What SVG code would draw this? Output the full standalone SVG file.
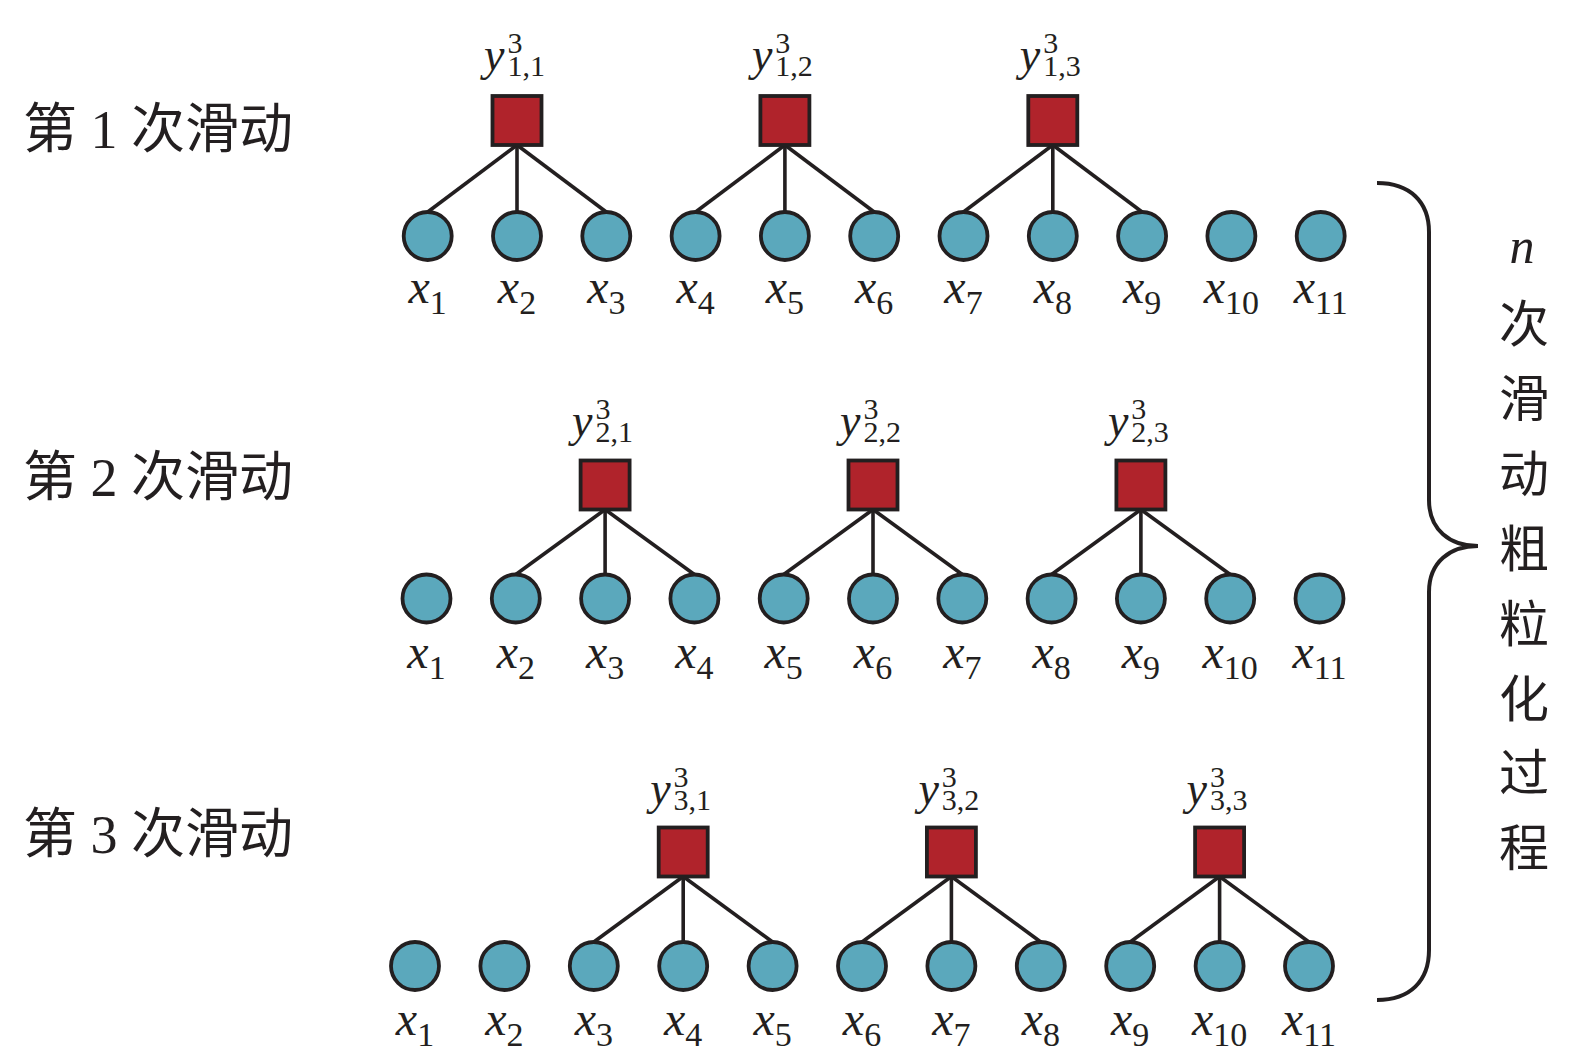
<svg xmlns="http://www.w3.org/2000/svg" width="1575" height="1062" viewBox="0 0 1575 1062">
<style>
.c{fill:#5BA8BC;stroke:#231F20;stroke-width:3.8}
.s{fill:#B0232B;stroke:#231F20;stroke-width:3.8}
.e{stroke:#231F20;stroke-width:3.6;fill:none}
.xl{font-family:"Liberation Serif","Times New Roman",serif;font-size:48px;fill:#231F20;text-anchor:middle}
.xl .v{font-style:italic}
.xl .b{font-size:34px}
.yl{font-family:"Liberation Serif","Times New Roman",serif;font-size:46px;fill:#231F20}
.yl .v{font-style:italic}
.yl .b{font-size:30px}
.cn{font-family:"Liberation Serif","Noto Sans CJK SC",sans-serif;font-size:54px;fill:#231F20}
.vt{font-family:"Liberation Serif","Noto Sans CJK SC",sans-serif;font-size:50px;fill:#231F20;text-anchor:middle}
</style>
<rect width="1575" height="1062" fill="#fff"/>

<g id="connectors">
<!-- row 1 -->
<line class="e" x1="517" y1="145" x2="427.7" y2="212"/>
<line class="e" x1="517" y1="145" x2="517" y2="212"/>
<line class="e" x1="517" y1="145" x2="606.3" y2="212"/>
<line class="e" x1="784.9" y1="145" x2="695.6" y2="212"/>
<line class="e" x1="784.9" y1="145" x2="784.9" y2="212"/>
<line class="e" x1="784.9" y1="145" x2="874.2" y2="212"/>
<line class="e" x1="1052.8" y1="145" x2="963.5" y2="212"/>
<line class="e" x1="1052.8" y1="145" x2="1052.8" y2="212"/>
<line class="e" x1="1052.8" y1="145" x2="1142.1" y2="212"/>
<!-- row 2 -->
<line class="e" x1="605.1" y1="509.5" x2="515.8" y2="574.5"/>
<line class="e" x1="605.1" y1="509.5" x2="605.1" y2="574.5"/>
<line class="e" x1="605.1" y1="509.5" x2="694.4" y2="574.5"/>
<line class="e" x1="873" y1="509.5" x2="783.7" y2="574.5"/>
<line class="e" x1="873" y1="509.5" x2="873" y2="574.5"/>
<line class="e" x1="873" y1="509.5" x2="962.3" y2="574.5"/>
<line class="e" x1="1140.9" y1="509.5" x2="1051.6" y2="574.5"/>
<line class="e" x1="1140.9" y1="509.5" x2="1140.9" y2="574.5"/>
<line class="e" x1="1140.9" y1="509.5" x2="1230.2" y2="574.5"/>
<!-- row 3 -->
<line class="e" x1="683.2" y1="876.5" x2="593.8" y2="942"/>
<line class="e" x1="683.2" y1="876.5" x2="683.2" y2="942"/>
<line class="e" x1="683.2" y1="876.5" x2="772.6" y2="942"/>
<line class="e" x1="951.4" y1="876.5" x2="862" y2="942"/>
<line class="e" x1="951.4" y1="876.5" x2="951.4" y2="942"/>
<line class="e" x1="951.4" y1="876.5" x2="1040.8" y2="942"/>
<line class="e" x1="1219.6" y1="876.5" x2="1130.2" y2="942"/>
<line class="e" x1="1219.6" y1="876.5" x2="1219.6" y2="942"/>
<line class="e" x1="1219.6" y1="876.5" x2="1309" y2="942"/>
</g>

<!-- Row labels -->
<g id="row-labels">
<text class="cn" x="23" y="147.5">第 1 次滑动</text>
<text class="cn" x="23" y="495.5">第 2 次滑动</text>
<text class="cn" x="23" y="852.5">第 3 次滑动</text>
</g>

<!-- Row 1 -->
<g id="row1">
<g id="y11"><rect class="s" x="492.5" y="96" width="49" height="49"/><text class="yl" x="484" y="70"><tspan class="v">y</tspan><tspan class="b" dx="3" dy="-17">3</tspan><tspan class="b" dx="-15" dy="23">1,1</tspan></text></g>
<g id="y12"><rect class="s" x="760.4" y="96" width="49" height="49"/><text class="yl" x="751.9" y="70"><tspan class="v">y</tspan><tspan class="b" dx="3" dy="-17">3</tspan><tspan class="b" dx="-15" dy="23">1,2</tspan></text></g>
<g id="y13"><rect class="s" x="1028.3" y="96" width="49" height="49"/><text class="yl" x="1019.8" y="70"><tspan class="v">y</tspan><tspan class="b" dx="3" dy="-17">3</tspan><tspan class="b" dx="-15" dy="23">1,3</tspan></text></g>
<g id="r1x1"><circle class="c" cx="427.7" cy="236" r="24"/><text class="xl" x="427.7" y="303"><tspan class="v">x</tspan><tspan class="b" dy="11">1</tspan></text></g>
<g id="r1x2"><circle class="c" cx="517" cy="236" r="24"/><text class="xl" x="517" y="303"><tspan class="v">x</tspan><tspan class="b" dy="11">2</tspan></text></g>
<g id="r1x3"><circle class="c" cx="606.3" cy="236" r="24"/><text class="xl" x="606.3" y="303"><tspan class="v">x</tspan><tspan class="b" dy="11">3</tspan></text></g>
<g id="r1x4"><circle class="c" cx="695.6" cy="236" r="24"/><text class="xl" x="695.6" y="303"><tspan class="v">x</tspan><tspan class="b" dy="11">4</tspan></text></g>
<g id="r1x5"><circle class="c" cx="784.9" cy="236" r="24"/><text class="xl" x="784.9" y="303"><tspan class="v">x</tspan><tspan class="b" dy="11">5</tspan></text></g>
<g id="r1x6"><circle class="c" cx="874.2" cy="236" r="24"/><text class="xl" x="874.2" y="303"><tspan class="v">x</tspan><tspan class="b" dy="11">6</tspan></text></g>
<g id="r1x7"><circle class="c" cx="963.5" cy="236" r="24"/><text class="xl" x="963.5" y="303"><tspan class="v">x</tspan><tspan class="b" dy="11">7</tspan></text></g>
<g id="r1x8"><circle class="c" cx="1052.8" cy="236" r="24"/><text class="xl" x="1052.8" y="303"><tspan class="v">x</tspan><tspan class="b" dy="11">8</tspan></text></g>
<g id="r1x9"><circle class="c" cx="1142.1" cy="236" r="24"/><text class="xl" x="1142.1" y="303"><tspan class="v">x</tspan><tspan class="b" dy="11">9</tspan></text></g>
<g id="r1x10"><circle class="c" cx="1231.4" cy="236" r="24"/><text class="xl" x="1231.4" y="303"><tspan class="v">x</tspan><tspan class="b" dy="11">10</tspan></text></g>
<g id="r1x11"><circle class="c" cx="1320.7" cy="236" r="24"/><text class="xl" x="1320.7" y="303"><tspan class="v">x</tspan><tspan class="b" dy="11">11</tspan></text></g>
</g>

<!-- Row 2 -->
<g id="row2">
<g id="y21"><rect class="s" x="580.6" y="460.5" width="49" height="49"/><text class="yl" x="572.1" y="436"><tspan class="v">y</tspan><tspan class="b" dx="3" dy="-17">3</tspan><tspan class="b" dx="-15" dy="23">2,1</tspan></text></g>
<g id="y22"><rect class="s" x="848.5" y="460.5" width="49" height="49"/><text class="yl" x="840" y="436"><tspan class="v">y</tspan><tspan class="b" dx="3" dy="-17">3</tspan><tspan class="b" dx="-15" dy="23">2,2</tspan></text></g>
<g id="y23"><rect class="s" x="1116.4" y="460.5" width="49" height="49"/><text class="yl" x="1107.9" y="436"><tspan class="v">y</tspan><tspan class="b" dx="3" dy="-17">3</tspan><tspan class="b" dx="-15" dy="23">2,3</tspan></text></g>
<g id="r2x1"><circle class="c" cx="426.5" cy="598.5" r="24"/><text class="xl" x="426.5" y="667.5"><tspan class="v">x</tspan><tspan class="b" dy="11">1</tspan></text></g>
<g id="r2x2"><circle class="c" cx="515.8" cy="598.5" r="24"/><text class="xl" x="515.8" y="667.5"><tspan class="v">x</tspan><tspan class="b" dy="11">2</tspan></text></g>
<g id="r2x3"><circle class="c" cx="605.1" cy="598.5" r="24"/><text class="xl" x="605.1" y="667.5"><tspan class="v">x</tspan><tspan class="b" dy="11">3</tspan></text></g>
<g id="r2x4"><circle class="c" cx="694.4" cy="598.5" r="24"/><text class="xl" x="694.4" y="667.5"><tspan class="v">x</tspan><tspan class="b" dy="11">4</tspan></text></g>
<g id="r2x5"><circle class="c" cx="783.7" cy="598.5" r="24"/><text class="xl" x="783.7" y="667.5"><tspan class="v">x</tspan><tspan class="b" dy="11">5</tspan></text></g>
<g id="r2x6"><circle class="c" cx="873" cy="598.5" r="24"/><text class="xl" x="873" y="667.5"><tspan class="v">x</tspan><tspan class="b" dy="11">6</tspan></text></g>
<g id="r2x7"><circle class="c" cx="962.3" cy="598.5" r="24"/><text class="xl" x="962.3" y="667.5"><tspan class="v">x</tspan><tspan class="b" dy="11">7</tspan></text></g>
<g id="r2x8"><circle class="c" cx="1051.6" cy="598.5" r="24"/><text class="xl" x="1051.6" y="667.5"><tspan class="v">x</tspan><tspan class="b" dy="11">8</tspan></text></g>
<g id="r2x9"><circle class="c" cx="1140.9" cy="598.5" r="24"/><text class="xl" x="1140.9" y="667.5"><tspan class="v">x</tspan><tspan class="b" dy="11">9</tspan></text></g>
<g id="r2x10"><circle class="c" cx="1230.2" cy="598.5" r="24"/><text class="xl" x="1230.2" y="667.5"><tspan class="v">x</tspan><tspan class="b" dy="11">10</tspan></text></g>
<g id="r2x11"><circle class="c" cx="1319.5" cy="598.5" r="24"/><text class="xl" x="1319.5" y="667.5"><tspan class="v">x</tspan><tspan class="b" dy="11">11</tspan></text></g>
</g>

<!-- Row 3 -->
<g id="row3">
<g id="y31"><rect class="s" x="658.7" y="827.5" width="49" height="49"/><text class="yl" x="650.2" y="804"><tspan class="v">y</tspan><tspan class="b" dx="3" dy="-17">3</tspan><tspan class="b" dx="-15" dy="23">3,1</tspan></text></g>
<g id="y32"><rect class="s" x="926.9" y="827.5" width="49" height="49"/><text class="yl" x="918.4" y="804"><tspan class="v">y</tspan><tspan class="b" dx="3" dy="-17">3</tspan><tspan class="b" dx="-15" dy="23">3,2</tspan></text></g>
<g id="y33"><rect class="s" x="1195.1" y="827.5" width="49" height="49"/><text class="yl" x="1186.6" y="804"><tspan class="v">y</tspan><tspan class="b" dx="3" dy="-17">3</tspan><tspan class="b" dx="-15" dy="23">3,3</tspan></text></g>
<g id="r3x1"><circle class="c" cx="415" cy="966" r="24"/><text class="xl" x="415" y="1035"><tspan class="v">x</tspan><tspan class="b" dy="11">1</tspan></text></g>
<g id="r3x2"><circle class="c" cx="504.4" cy="966" r="24"/><text class="xl" x="504.4" y="1035"><tspan class="v">x</tspan><tspan class="b" dy="11">2</tspan></text></g>
<g id="r3x3"><circle class="c" cx="593.8" cy="966" r="24"/><text class="xl" x="593.8" y="1035"><tspan class="v">x</tspan><tspan class="b" dy="11">3</tspan></text></g>
<g id="r3x4"><circle class="c" cx="683.2" cy="966" r="24"/><text class="xl" x="683.2" y="1035"><tspan class="v">x</tspan><tspan class="b" dy="11">4</tspan></text></g>
<g id="r3x5"><circle class="c" cx="772.6" cy="966" r="24"/><text class="xl" x="772.6" y="1035"><tspan class="v">x</tspan><tspan class="b" dy="11">5</tspan></text></g>
<g id="r3x6"><circle class="c" cx="862" cy="966" r="24"/><text class="xl" x="862" y="1035"><tspan class="v">x</tspan><tspan class="b" dy="11">6</tspan></text></g>
<g id="r3x7"><circle class="c" cx="951.4" cy="966" r="24"/><text class="xl" x="951.4" y="1035"><tspan class="v">x</tspan><tspan class="b" dy="11">7</tspan></text></g>
<g id="r3x8"><circle class="c" cx="1040.8" cy="966" r="24"/><text class="xl" x="1040.8" y="1035"><tspan class="v">x</tspan><tspan class="b" dy="11">8</tspan></text></g>
<g id="r3x9"><circle class="c" cx="1130.2" cy="966" r="24"/><text class="xl" x="1130.2" y="1035"><tspan class="v">x</tspan><tspan class="b" dy="11">9</tspan></text></g>
<g id="r3x10"><circle class="c" cx="1219.6" cy="966" r="24"/><text class="xl" x="1219.6" y="1035"><tspan class="v">x</tspan><tspan class="b" dy="11">10</tspan></text></g>
<g id="r3x11"><circle class="c" cx="1309" cy="966" r="24"/><text class="xl" x="1309" y="1035"><tspan class="v">x</tspan><tspan class="b" dy="11">11</tspan></text></g>
</g>

<!-- Brace and caption -->
<g id="brace">
<path d="M1377,183 C1410,183 1429,202 1429,232 L1429,500 C1429,530 1450,546 1478,546 C1450,546 1429,562 1429,592 L1429,950 C1429,981 1410,1000 1377,1000" fill="none" stroke="#231F20" stroke-width="4"/>
</g>
<g id="caption">
<text class="vt" x="1522" y="263" font-style="italic" font-size="48">n</text>
<text class="vt"><tspan x="1524" y="342">次</tspan><tspan x="1524" y="417">滑</tspan><tspan x="1524" y="492">动</tspan><tspan x="1524" y="567">粗</tspan><tspan x="1524" y="642">粒</tspan><tspan x="1524" y="717">化</tspan><tspan x="1524" y="791">过</tspan><tspan x="1524" y="866">程</tspan></text>
</g>
</svg>
